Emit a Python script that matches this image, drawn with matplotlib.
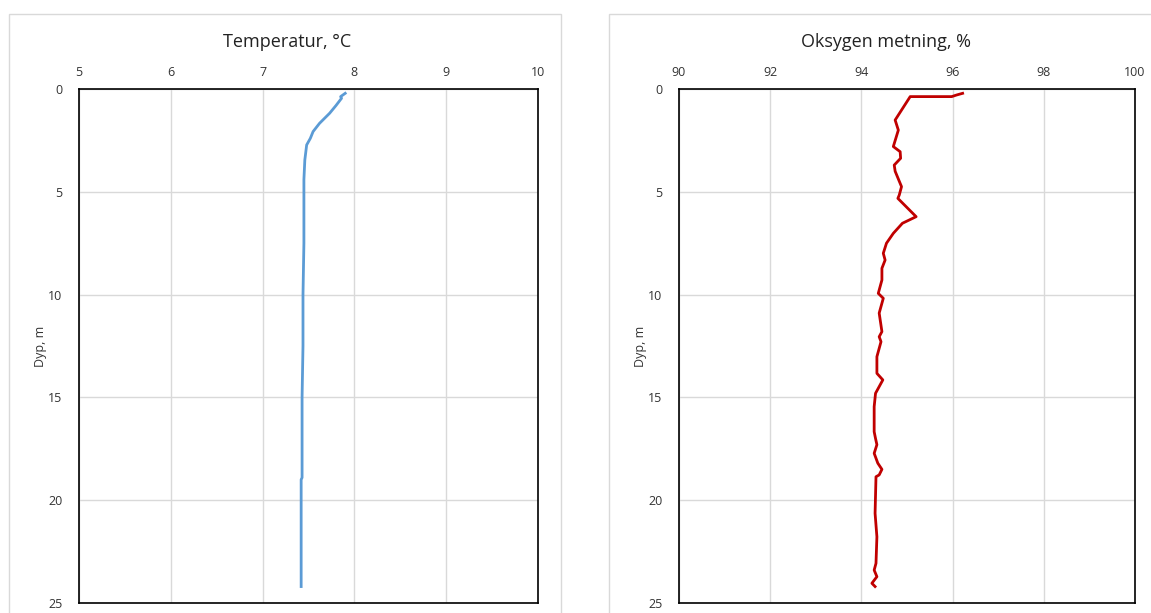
import matplotlib
matplotlib.use("Agg")
import matplotlib.pyplot as plt
from matplotlib.patches import Rectangle

plt.rcParams['font.family'] = ['Open Sans', 'DejaVu Sans']

# Temperature profile (°C vs depth m)
temp_depth = [0.21, 0.37, 0.45, 0.8, 1.18, 1.67, 2.07, 2.4, 2.72, 3.45, 4.4, 5.0, 7.5,
              10.0, 12.5, 15.0, 17.5, 18.9, 19.0, 20.0, 22.0, 24.2]
temp_vals = [7.90, 7.85, 7.86, 7.80, 7.73, 7.62, 7.55, 7.52, 7.48, 7.46, 7.45, 7.45, 7.45,
             7.44, 7.44, 7.43, 7.43, 7.43, 7.42, 7.42, 7.42, 7.42]

# Oxygen saturation profile (% vs depth m)
oxy_depth = [0.21, 0.29, 0.37, 0.37, 1.51, 2.0, 2.8, 3.05, 3.37, 3.7, 4.0, 4.43, 4.75,
             5.16, 5.32, 6.21, 6.53, 7.02, 7.5, 7.99, 8.32, 8.72, 9.29, 9.94, 10.18,
             10.9, 11.8, 12.05, 12.29, 13.02, 13.83, 14.15, 14.8, 15.45, 16.67, 17.0,
             17.3, 17.72, 18.2, 18.5, 18.77, 18.86, 20.64, 21.78, 23.07, 23.4, 23.72,
             24.04, 24.2]
oxy_vals = [96.22, 96.09, 95.98, 95.07, 94.74, 94.81, 94.70, 94.85, 94.86, 94.72, 94.74,
            94.82, 94.88, 94.83, 94.80, 95.20, 94.90, 94.70, 94.55, 94.48, 94.52, 94.45,
            94.45, 94.37, 94.48, 94.39, 94.45, 94.39, 94.43, 94.34, 94.34, 94.47, 94.31,
            94.28, 94.28, 94.31, 94.34, 94.28, 94.36, 94.45, 94.39, 94.32, 94.30, 94.34,
            94.32, 94.28, 94.34, 94.23, 94.30]

W, H = 1151, 613
fig = plt.figure(figsize=(W / 100, H / 100), dpi=100)

# chart frames
for x0, x1 in [(9, 561), (609, 1160)]:
    fig.patches.append(Rectangle((x0 / W, -0.05), (x1 - x0) / W, 1 - 14 / H + 0.05,
                                 transform=fig.transFigure, fill=False,
                                 edgecolor='#d9d9d9', linewidth=1.0))


def make_ax(left, right, xlim, xticks, title, title_x):
    top, bottom = 89, 603
    ax = fig.add_axes([left / W, 1 - bottom / H, (right - left) / W, (bottom - top) / H])
    ax.set_xlim(*xlim)
    ax.set_ylim(25, 0)
    ax.set_xticks(xticks)
    ax.set_yticks([0, 5, 10, 15, 20, 25])
    ax.xaxis.tick_top()
    ax.tick_params(length=0, labelsize=9, colors='#333333', pad=7)
    ax.tick_params(axis='y', pad=12)
    ax.grid(True, color='#d9d9d9', linewidth=1.0)
    ax.set_axisbelow(True)
    for s in ax.spines.values():
        s.set_color('black')
        s.set_linewidth(1.2)
    ax.set_ylabel('Dyp, m', fontsize=9, color='#333333', labelpad=1)
    fig.text(title_x / W, 1 - 42 / H, title, ha='center', va='center', fontsize=13,
             color='#222222')
    return ax


ax1 = make_ax(79, 538, (5, 10), [5, 6, 7, 8, 9, 10], 'Temperatur, °C', 287)
ax1.plot(temp_vals, temp_depth, color='#5b9bd5', linewidth=2)

ax2 = make_ax(679, 1135, (90, 100), [90, 92, 94, 96, 98, 100], 'Oksygen metning, %', 886)
ax2.plot(oxy_vals, oxy_depth, color='#c00000', linewidth=2)

fig.savefig('out.png', dpi=100, facecolor='white')
